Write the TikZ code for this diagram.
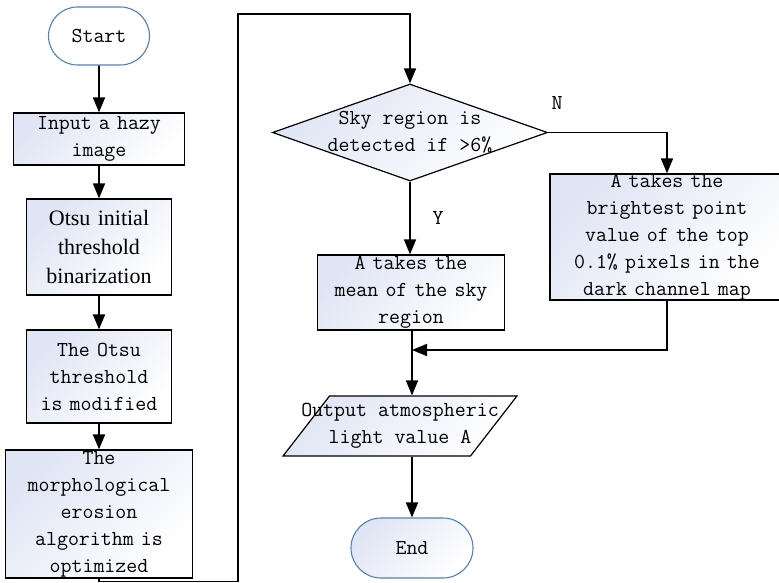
\documentclass[tikz,border=0pt]{standalone}
\usepackage{fontspec}
\setmainfont{Liberation Serif}
\usepackage{xcolor}
\usetikzlibrary{arrows.meta,shapes.geometric,shapes.misc}
\definecolor{termblue}{RGB}{79,129,189}
\definecolor{fillblue}{RGB}{224,229,245}
\tikzset{
  mono/.style={font=\ttfamily\fontsize{21.3}{27}\selectfont},
  shaded/.style={top color=fillblue, bottom color=white, shading angle=45},
  box/.style={rectangle, draw, line width=1.2pt, shaded, mono, align=center, inner sep=0pt},
  term/.style={rounded rectangle, draw=termblue, line width=1.1pt, mono, inner sep=0pt},
  arr/.style={line width=1.7pt, -{Triangle[length=15pt,width=12pt]}}
}
\begin{document}
\begin{tikzpicture}[x=1pt,y=-1pt]
\useasboundingbox (0,0) rectangle (779,583);
\clip (0,0) rectangle (779,583);
\node (1) at (99,36) [term,fill=white,minimum width=101pt,minimum height=58pt] {Start};
\node (2) at (99,139) [box,text width=171pt,minimum height=52pt] {Input a hazy\\image};
\node (3) at (99,247) [box,text width=145pt,minimum height=96pt,
  font=\rmfamily\fontsize{22}{29}\selectfont] {Otsu initial\\threshold\\binarization};
\node (4) at (99,376.5) [box,text width=145pt,minimum height=93pt] {The Otsu\\threshold\\is modified};
\node (5) at (99,514) [box,text width=187pt,minimum height=128pt] {The\\morphological\\erosion\\algorithm is\\optimized};
\node (6) at (410,132.5) [diamond,draw,line width=1.2pt,shaded,minimum width=275pt,minimum height=97pt,inner sep=0pt,
  label={[mono,align=center]center:Sky region is\\detected if >6\%}] {};
\node (7) at (411,292.5) [box,text width=187pt,minimum height=75pt] {A takes the\\mean of the sky\\region};
\node (8) at (667,237) [box,text width=234pt,minimum height=126pt] {A takes the\\brightest point\\value of the top\\0.1\% pixels in the\\dark channel map};
\node (9) at (400,426) [trapezium,trapezium left angle=70,trapezium right angle=110,trapezium stretches=true,
  draw,line width=1.2pt,shaded,minimum width=234pt,minimum height=60pt,inner sep=0pt,
  label={[mono,align=center]center:Output atmospheric\\light value A}] {\phantom{X}};
\node (10) at (412,548) [term,shaded,minimum width=122pt,minimum height=60pt] {End};
\node (y) at (438,218) [mono] {Y};
\node (n) at (557,103) [mono] {N};
\coordinate (m) at (412,350);
\draw[arr] (1) -- (2);
\draw[arr] (2) -- (3);
\draw[arr] (3) -- (4);
\draw[arr] (4) -- (5);
\draw[arr] (5.south) -- ++(0,3) -| (238,14) -| (6.north);
\draw[arr] (6.south) -- (6.south |- 7.north);
\draw[arr] (6.east) -| (8.north);
\draw[arr] (8.south) |- (m);
\draw[arr] (10.north |- 7.south) -- (10.north |- 9.north);
\draw[arr] (10.north |- 9.south) -- (10.north);
\end{tikzpicture}
\end{document}
